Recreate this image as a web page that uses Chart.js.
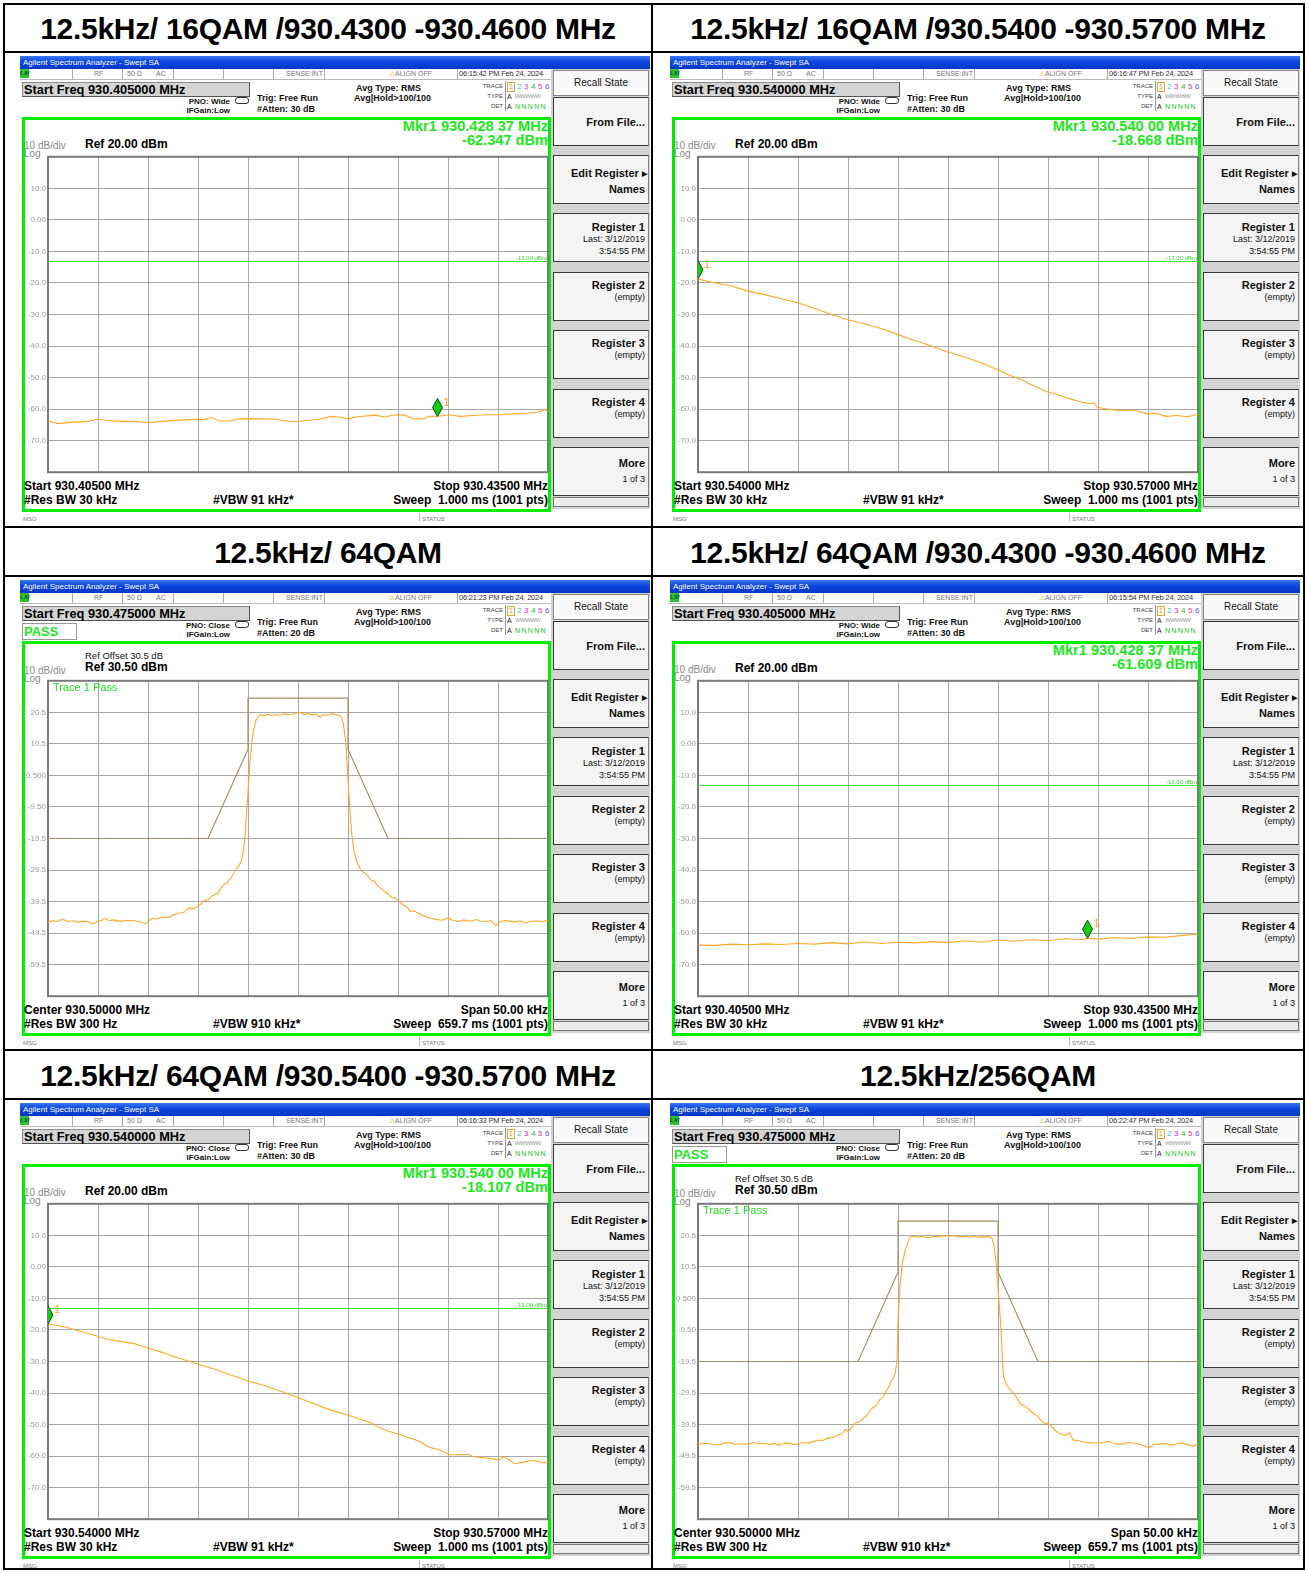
<!DOCTYPE html>
<html>
<head>
<meta charset="utf-8">
<script src="https://cdn.jsdelivr.net/npm/chart.js@4.4.0/dist/chart.umd.min.js"></script>
<style>
  body { margin: 0; background: #fff; font-family: "Liberation Sans", Arial, sans-serif; }
  #page { position: relative; width: 1309px; height: 1573px; overflow: hidden; }
  .ln { position: absolute; background: #000; z-index: 5; }
  .ttl { position: absolute; display: flex; align-items: center; justify-content: center; padding-top: 2px;
         box-sizing: border-box; font-weight: bold; font-size: 30px; letter-spacing: -0.3px; color: #000; white-space: nowrap; }
  .shot { position: absolute; width: 630px; height: 466px; background: #fff; overflow: hidden; }
  .shot div, .shot canvas { position: absolute; white-space: nowrap; }
  .bar { left: 0; top: 0; width: 630px; height: 13px; color: #fff; font-size: 8px; line-height: 13px;
         padding-left: 3px; box-sizing: border-box;
         background: linear-gradient(#3a76f2, #0a46de 45%, #0838c4); }
  .st { font-size: 7px; color: #777; line-height: 10px; top: 13px; }
  .sep { top: 13px; width: 1px; height: 10px; background: #aaa; }
  .sf { background: #d4d4d4; border: 1px solid #8a8a8a; border-right-color: #555; border-bottom-color: #555;
        font-size: 12.8px; font-weight: bold; line-height: 14px; padding-left: 1px; box-sizing: border-box; }
  .b8 { font-size: 8px; font-weight: bold; line-height: 9px; color: #111; }
  .b9 { font-size: 9px; font-weight: bold; line-height: 10px; color: #111; }
  .b11 { font-size: 12px; font-weight: bold; line-height: 13px; color: #000; }
  .b12 { font-size: 12px; font-weight: bold; line-height: 13px; color: #000; }
  .g9 { font-size: 10px; color: #8a8a8a; line-height: 9px; }
  .mk { font-size: 14.6px; font-weight: bold; color: #1ee61e; line-height: 14px; }
  .t6 { font-size: 6px; color: #444; line-height: 8px; }
  .gb { border: 3px solid #00ee00; box-sizing: border-box; }
  .sk { background: #f4f4f4; border: 1px solid #3a3a3a; border-right-color: #888; box-sizing: border-box;
        left: 533px; width: 96px; height: 49px; }
  .sk div { right: 3px; font-size: 11px; font-weight: bold; line-height: 12px; color: #111; }
  .sk div.sub { font-size: 9px; font-weight: normal; line-height: 12px; }
</style>
</head>
<body>
<div id="page"></div>
<script>
const FONT = '"Liberation Sans", Arial, sans-serif';

// ---------- data (x in kHz, y in dBm) ----------
// 16QAM 930.405-930.435 MHz (x = kHz from start)
const p1Freq = [0, 0.57, 1.38, 2.39, 2.98, 3.61, 4.42, 5.23, 5.98, 6.85, 7.86, 8.98, 9.39, 9.79, 10.3, 10.9, 11.5, 12.0, 12.9, 13.7, 14.1, 14.8, 15.4, 16.2, 17.0, 17.4, 18.0, 18.6, 19.6, 20.2, 20.8, 21.4, 21.9, 22.5, 22.9, 23.5, 24.1, 24.7, 25.5, 26.3, 27.1, 27.9, 28.7, 29.4, 29.8, 30];
const p1Level = [-63.75, -64.6, -64.2, -63.9, -63.2, -63.6, -63.9, -63.9, -64.3, -63.9, -63.5, -63.2, -63.3, -62.6, -63.75, -63.75, -63.1, -63.0, -63.1, -63.2, -63.6, -64.1, -63.6, -63.3, -62.3, -62.5, -63.0, -62.4, -61.9, -62.5, -61.8, -61.9, -63.0, -63.1, -62.3, -62.2, -61.8, -62.3, -62.0, -61.8, -61.8, -61.5, -61.3, -61.0, -60.1, -60.8];

// 16QAM 930.540-930.570 MHz
const p2Freq = [0, 0.73, 1.95, 2.94, 3.98, 4.99, 5.95, 7.02, 8.04, 8.95, 10.07, 11.08, 11.96, 12.91, 13.93, 14.96, 15.75, 16.56, 17.38, 17.95, 18.59, 19.41, 19.81, 20.42, 20.95, 21.64, 22.25, 22.86, 23.47, 23.77, 23.95, 24.68, 25.5, 26.1, 26.96, 27.5, 28.1, 28.7, 29.35, 30];
const p2Level = [-18.7, -19.7, -20.9, -22.5, -23.7, -25.0, -26.2, -28.1, -30.1, -31.6, -33.1, -34.6, -36.3, -38.1, -39.8, -41.9, -43.1, -44.5, -46.2, -47.4, -49.0, -50.7, -51.8, -53.2, -54.5, -55.5, -56.6, -57.6, -58.3, -58.0, -59.4, -60.1, -60.5, -60.3, -61.5, -61.4, -62.3, -62.0, -62.4, -61.7];

// 64QAM centre 930.500 MHz, span 50 kHz (x = kHz from centre)
const p3Freq = [-25, -24.7, -24.4, -24.0, -23.7, -23.4, -23.0, -22.5, -22.0, -21.5,
  -21.0, -20.5, -20.0, -19.6, -19.3, -18.9, -18.4, -18.0, -17.6, -17.1,
  -16.7, -16.3, -15.8, -15.3, -14.9, -14.6, -14.2, -13.8, -13.3, -12.9,
  -12.4, -11.9, -11.4, -10.9, -10.5, -10.05, -9.7, -9.4, -9.0, -8.5,
  -8.0, -7.5, -7.1, -6.7, -6.4, -6.2, -5.9, -5.6, -5.45, -5.3,
  -5.1, -4.8, -4.5, -4.2, -3.8, -3.4, -3.0, -2.6, -2.2, -1.8,
  -1.4, -1.0, -0.6, -0.2, 0.2, 0.6, 1.0, 1.4, 1.8, 2.2,
  2.6, 3.0, 3.4, 3.8, 4.1, 4.35, 4.56, 4.8, 5.0, 5.2,
  5.4, 5.6, 5.8, 6.0, 6.3, 6.7, 7.0, 7.3, 7.6, 8.0,
  8.3, 8.7, 9.0, 9.35, 9.7, 10.0, 10.5, 11.0, 11.2, 11.6,
  12.05, 12.5, 13.0, 13.4, 13.9, 14.4, 14.7, 15.0, 15.5, 16.1,
  16.6, 17.0, 17.4, 17.9, 18.3, 18.8, 19.3, 19.8, 20.2, 20.7,
  21.2, 21.7, 22.2, 22.8, 23.3, 23.85, 24.4, 25];
const p3Level = [-46.1, -45.7, -45.6, -45.9, -45.2, -45.3, -45.8, -45.6, -46.1, -45.7,
  -45.9, -46.6, -45.8, -45.4, -44.8, -45.5, -45.3, -45.7, -45.7, -45.4,
  -45.6, -45.6, -45.9, -46.6, -45.6, -44.8, -45.0, -44.6, -44.4, -44.5,
  -43.6, -43.3, -42.9, -41.5, -41.8, -41.1, -40.2, -39.2, -38.9, -37.6,
  -36.8, -34.3, -33.6, -32.0, -30.6, -29.1, -28.2, -26.0, -23.0, -18.8,
  -9.5, 5.0, 14.3, 18.0, 19.8, 19.4, 19.9, 19.5, 19.8, 19.6,
  20.1, 19.7, 19.8, 20.3, 20.5, 19.8, 20.1, 19.7, 19.9, 19.0,
  19.8, 19.6, 20.1, 19.7, 19.7, 19.1, 16.4, 10.2, -1.2, -10.5,
  -18.8, -23.5, -26.0, -27.8, -29.6, -30.5, -31.4, -32.7, -33.0, -34.6,
  -35.3, -36.4, -37.0, -38.2, -38.4, -39.2, -40.5, -41.5, -42.6, -42.4,
  -43.3, -43.9, -44.5, -44.8, -45.2, -45.4, -45.1, -44.6, -45.5, -45.8,
  -45.3, -45.7, -45.6, -45.2, -45.8, -45.9, -45.5, -47.1, -45.9, -45.5,
  -45.7, -46.0, -45.6, -46.3, -45.8, -45.6, -45.9, -45.4];

// 64QAM 930.405-930.435 MHz
const p4Freq = [0, 1.0, 2.0, 3.0, 4.0, 5.0, 6.0, 7.0, 8.0, 9.0, 10.0, 11.0, 12.0, 13.0, 14.0, 15.0, 16.0, 17.0, 18.0, 19.0, 20.0, 21.0, 22.0, 23.0, 23.4, 24.0, 25.0, 26.0, 27.0, 28.0, 29.0, 30.0];
const p4Level = [-63.8, -63.9, -63.5, -63.7, -63.4, -63.6, -63.3, -63.5, -63.0, -63.4, -62.8, -63.3, -62.9, -63.1, -62.7, -63.0, -62.4, -62.9, -62.2, -62.6, -62.0, -62.4, -61.8, -62.1, -61.6, -61.9, -61.4, -61.7, -61.2, -61.3, -60.8, -60.3];

// 64QAM 930.540-930.570 MHz
const p5Freq = [0, 0.97, 1.99, 2.98, 3.61, 4.42, 5.23, 5.98, 6.85, 7.86, 8.98, 10.09, 11.1, 11.99, 12.93, 14.15, 15.0, 15.97, 16.78, 17.99, 18.81, 19.42, 19.82, 20.43, 21.02, 21.65, 22.26, 22.86, 23.47, 24.04, 24.69, 25.2, 25.5, 26.31, 27.08, 27.36, 28.03, 28.54, 29.15, 29.66, 30];
const p5Level = [-18.1, -19.0, -20.5, -22.0, -23.0, -23.7, -24.4, -25.7, -27.1, -28.95, -30.8, -32.6, -34.5, -36.2, -37.5, -39.75, -41.5, -43.4, -45.1, -46.95, -48.5, -49.5, -50.8, -52.1, -53.0, -54.2, -55.2, -57.2, -57.95, -59.5, -59.6, -59.4, -60.2, -60.6, -61.2, -60.2, -62.4, -61.9, -61.3, -62.2, -61.9];

// 256QAM centre 930.500 MHz, span 50 kHz
const p6Freq = [-25, -24.6, -24.1, -23.5, -22.8, -22.3, -21.8, -21.3, -20.7, -20.0,
  -19.5, -18.9, -18.4, -17.8, -17.4, -17.0, -16.5, -16.0, -15.5, -15.0,
  -14.5, -14.0, -13.5, -13.0, -12.5, -12.0, -11.5, -11.0, -10.6, -10.3,
  -10.0, -9.6, -9.3, -8.9, -8.6, -8.1, -7.6, -7.2, -6.9, -6.5,
  -6.2, -5.9, -5.7, -5.5, -5.3, -5.1, -5.0, -4.8, -4.55, -4.2,
  -3.8, -3.4, -3.0, -2.6, -2.2, -1.8, -1.4, -1.0, -0.6, -0.2,
  0.2, 0.6, 1.0, 1.4, 1.8, 2.2, 2.6, 3.0, 3.4, 3.8,
  4.15, 4.4, 4.56, 4.83, 5.06, 5.3, 5.45, 5.57, 5.9, 6.4,
  6.8, 7.25, 7.6, 7.93, 8.4, 8.94, 9.3, 9.6, 10.0, 10.3,
  10.8, 11.3, 11.7, 12.15, 12.5, 13.0, 13.7, 14.3, 15.1, 15.6,
  16.0, 16.6, 17.0, 17.4, 18.0, 18.7, 19.3, 20.1, 20.6, 21.1,
  21.7, 22.4, 22.9, 23.45, 24.0, 24.5, 25];
const p6Level = [-46.0, -45.4, -45.5, -45.8, -45.9, -45.3, -45.3, -45.8, -45.6, -45.7,
  -45.2, -45.6, -45.5, -45.9, -45.4, -46.0, -45.6, -45.3, -45.8, -45.7,
  -45.2, -45.4, -44.9, -44.4, -44.5, -43.8, -43.5, -42.7, -42.5, -41.0,
  -41.6, -40.3, -39.0, -38.7, -37.95, -36.5, -34.3, -33.5, -31.8, -30.8,
  -28.9, -27.5, -25.8, -24.8, -23.5, -19.4, -7.0, 4.3, 12.0, 16.7,
  20.0, 20.2, 19.9, 20.2, 19.8, 19.9, 20.1, 20.1, 20.3, 20.4,
  20.2, 20.5, 20.0, 20.1, 20.2, 19.9, 20.2, 19.8, 20.1, 20.0,
  20.0, 19.6, 17.7, 11.5, 1.2, -9.1, -19.5, -24.6, -27.1, -29.2,
  -30.6, -33.0, -33.5, -34.3, -35.6, -36.9, -38.2, -39.0, -39.2, -39.8,
  -41.6, -42.6, -42.9, -42.1, -44.3, -44.6, -45.0, -45.3, -45.4, -45.1,
  -44.8, -45.4, -45.7, -45.7, -45.2, -45.4, -45.9, -46.8, -45.8, -45.7,
  -45.5, -46.0, -45.6, -45.3, -45.9, -46.4, -45.7];

// emission mask used on the 64QAM / 256QAM plots
const maskFreq = [-25, -9, -5, -5, 5, 5, 9, 25];
const maskLevel = [-19.5, -19.5, 8.8, 25, 25, 8.8, -19.5, -19.5];

// marker 1 (null = no marker) and -13 dBm limit line
const markerFreqs = [23.37, 0, null, 23.37, 0, null];
const markerLevels = [-62.347, -18.668, null, -61.609, -18.107, null];
const limitLevel = -13;

// y tick labels, top to bottom
const yLabels16 = ['', '10.0', '0.00', '-10.0', '-20.0', '-30.0', '-40.0', '-50.0', '-60.0', '-70.0', ''];
const yLabels64 = ['', '20.5', '10.5', '0.500', '-9.50', '-19.5', '-29.5', '-39.5', '-49.5', '-59.5', ''];

const titles = [
  '12.5kHz/ 16QAM /930.4300 -930.4600 MHz', '12.5kHz/ 16QAM /930.5400 -930.5700 MHz',
  '12.5kHz/ 64QAM', '12.5kHz/ 64QAM /930.4300 -930.4600 MHz',
  '12.5kHz/ 64QAM /930.5400 -930.5700 MHz', '12.5kHz/256QAM'
];

const swept = { b1: 'Start 930.40500 MHz', b2: 'Stop 930.43500 MHz', rbw: '#Res BW 30 kHz', vbw: '#VBW 91 kHz*', sweep: 'Sweep&nbsp; 1.000 ms (1001 pts)' };
const swept2 = { b1: 'Start 930.54000 MHz', b2: 'Stop 930.57000 MHz', rbw: '#Res BW 30 kHz', vbw: '#VBW 91 kHz*', sweep: 'Sweep&nbsp; 1.000 ms (1001 pts)' };
const centred = { b1: 'Center 930.50000 MHz', b2: 'Span 50.00 kHz', rbw: '#Res BW 300 Hz', vbw: '#VBW 910 kHz*', sweep: 'Sweep&nbsp; 659.7 ms (1001 pts)' };

const panels = [
  { freq: p1Freq, level: p1Level, mode: '16', start: '930.405000', time: '06:15:42 PM Feb 24, 2024', pno: 'Wide', atten: '30', mkrF: '930.428 37', mkrL: '-62.347', txt: swept },
  { freq: p2Freq, level: p2Level, mode: '16', start: '930.540000', time: '06:16:47 PM Feb 24, 2024', pno: 'Wide', atten: '30', mkrF: '930.540 00', mkrL: '-18.668', txt: swept2 },
  { freq: p3Freq, level: p3Level, mode: '64', start: '930.475000', time: '06:21:23 PM Feb 24, 2024', pno: 'Close', atten: '20', txt: centred },
  { freq: p4Freq, level: p4Level, mode: '16', start: '930.405000', time: '06:15:54 PM Feb 24, 2024', pno: 'Wide', atten: '30', mkrF: '930.428 37', mkrL: '-61.609', txt: swept },
  { freq: p5Freq, level: p5Level, mode: '16', start: '930.540000', time: '06:16:33 PM Feb 24, 2024', pno: 'Close', atten: '30', mkrF: '930.540 00', mkrL: '-18.107', txt: swept2 },
  { freq: p6Freq, level: p6Level, mode: '64', start: '930.475000', time: '06:22:47 PM Feb 24, 2024', pno: 'Close', atten: '20', txt: centred }
];

// ---------- page frame ----------
const page = document.getElementById('page');
const shotX = [20, 670];
const shotY = [56, 580, 1103];
const bandTop = [5, 528, 1051];
const bandBottom = [51, 575, 1098];

function add(html) { page.insertAdjacentHTML('beforeend', html); }

function div(cls, x, y, content, extra) {
  return `<div class="${cls}" style="left:${x}px;top:${y}px;${extra || ''}">${content || ''}</div>`;
}
function rdiv(cls, right, y, content, extra) {
  return `<div class="${cls}" style="right:${630 - right}px;top:${y}px;${extra || ''}">${content || ''}</div>`;
}

function shotHTML(p, i) {
  const is64 = p.mode === '64';
  let h = '<div class="bar">Agilent Spectrum Analyzer - Swept SA</div>';
  // status row
  h += `<div style="left:0;top:13px;width:531px;height:10px;border-bottom:1px solid #bbb"></div>`;
  h += `<div style="left:0;top:13px;width:9px;height:9px;background:#2ec02e;font-size:6px;font-weight:bold;font-style:italic;color:#053;line-height:9px">LXI</div>`;
  [52, 102, 153, 203, 253, 304, 437].forEach(x => { h += div('sep', x, 13, ''); });
  h += div('st', 74, 13, 'RF') + div('st', 107, 13, '50 &Omega;') + div('st', 136, 13, 'AC');
  h += div('st', 266, 13, 'SENSE:INT');
  h += div('st', 369, 13, '<span style="color:#c9a000">&#9888;</span>ALIGN OFF');
  h += div('st', 439, 13, p.time, 'color:#333;font-size:7.5px;letter-spacing:-0.2px');
  // settings
  h += div('sf', 2, 26, `Start Freq ${p.start} MHz`, 'width:228px;height:15px');
  if (is64) {
    h += div('', 2, 43, 'PASS', 'width:55px;height:17px;border:1px solid #999;box-sizing:border-box;color:#1ee61e;font-size:13px;font-weight:bold;line-height:15px;padding-left:1px');
  }
  h += rdiv('b8', 210, 41, `PNO: ${p.pno}`) + rdiv('b8', 210, 50, 'IFGain:Low');
  h += div('', 215, 41, '', 'width:12px;height:5px;border:1px solid #333;border-radius:3px');
  h += div('b9', 237, 37, 'Trig: Free Run') + div('b9', 237, 48, `#Atten: ${p.atten} dB`);
  h += div('b9', 336, 27, 'Avg Type: RMS') + div('b9', 334, 37, 'Avg|Hold&gt;100/100');
  h += rdiv('t6', 483, 26, 'TRACE') + rdiv('t6', 483, 36, 'TYPE') + rdiv('t6', 483, 46, 'DET');
  h += div('', 485, 25, '', 'width:1px;height:30px;background:#999');
  h += div('', 487, 26, '1', 'width:6px;height:8px;border:1px solid #f0a030;color:#f09000;font-size:7px;line-height:8px;text-align:center');
  ['#18c8e8', '#e020e0', '#20c020', '#ff3080', '#6050ff'].forEach((c, k) => {
    h += div('', 497 + k * 7, 26, String(k + 2), `color:${c};font-size:8px;line-height:9px`);
  });
  h += div('', 487, 36, 'A', 'font-size:7px;line-height:9px;color:#222');
  h += div('', 495, 36, 'WWWWW', 'font-size:6px;line-height:9px;color:#999;letter-spacing:-0.6px');
  h += div('', 487, 46, 'A', 'font-size:7px;line-height:9px;color:#222');
  h += div('', 495, 46, 'N N N N N', 'font-size:7px;line-height:9px;color:#20c020;letter-spacing:-0.3px');
  // measurement window
  h += div('gb', 2, 61, '', 'width:529px;height:395px');
  if (!is64) {
    h += rdiv('mk', 528, 63, `Mkr1 ${p.mkrF} MHz`) + rdiv('mk', 528, 77, `${p.mkrL} dBm`);
    h += div('b12', 65, 82, 'Ref 20.00 dBm');
    h += div('g9', 4, 85, '10 dB/div') + div('g9', 4, 93, 'Log');
  } else {
    h += div('', 65, 71, 'Ref Offset 30.5 dB', 'font-size:9.5px;line-height:10px;color:#111');
    h += div('b12', 65, 81, 'Ref 30.50 dBm');
    h += div('g9', 4, 86, '10 dB/div') + div('g9', 4, 94, 'Log');
  }
  h += `<canvas id="c${i}" width="525" height="329" style="left:5px;top:94px;width:525px;height:329px"></canvas>`;
  if (is64) h += div('', 33, 101, 'Trace 1 Pass', 'font-size:11px;line-height:12px;color:#22dd22');
  h += div('b11', 4, 424, p.txt.b1) + rdiv('b11', 528, 424, p.txt.b2);
  h += div('b11', 4, 438, p.txt.rbw) + div('b11', 193, 438, p.txt.vbw) + rdiv('b11', 528, 438, p.txt.sweep);
  h += div('', 3, 459, 'MSG', 'font-size:6px;color:#777;line-height:8px');
  h += div('', 399, 457, '', 'width:1px;height:11px;background:#bbb');
  h += div('', 402, 459, 'STATUS', 'font-size:6px;color:#777;line-height:8px');
  // softkeys
  h += div('', 531, 13, '', 'width:99px;height:440px;background:#d2d2d2');
  h += div('', 533, 14, 'Recall State', 'width:96px;height:26px;background:#fafafa;border:1px solid #888;box-sizing:border-box;font-size:10px;line-height:24px;text-align:center;color:#111');
  const keys = [
    [41, [['From File...', 18, '']]],
    [99, [['Edit Register&nbsp;&nbsp;', 11, ''], ['Names', 27, '']]],
    [157, [['Register 1', 7, ''], ['Last: 3/12/2019', 19, 'sub'], ['3:54:55 PM', 31, 'sub']]],
    [216, [['Register 2', 6, ''], ['(empty)', 18, 'sub']]],
    [274, [['Register 3', 6, ''], ['(empty)', 18, 'sub']]],
    [333, [['Register 4', 6, ''], ['(empty)', 18, 'sub']]],
    [391, [['More', 9, ''], ['1 of 3', 25, 'sub']]]
  ];
  keys.forEach(([top, lines]) => {
    let inner = lines.map(([t, y, c]) => `<div class="${c}" style="top:${y}px">${t}</div>`).join('');
    if (top === 99) inner += `<div style="top:14px;right:1px;font-size:7px;line-height:8px">&#9654;</div>`;
    h += `<div class="sk" style="top:${top}px">${inner}</div>`;
  });
  h += div('', 533, 441, '', 'width:96px;height:10px;background:#ececec;border:1px solid #777;box-sizing:border-box');
  return h;
}

panels.forEach((p, i) => {
  const col = i % 2, row = Math.floor(i / 2);
  add(`<div class="shot" style="left:${shotX[col]}px;top:${shotY[row]}px">${shotHTML(p, i)}</div>`);
  const left = col === 0 ? 5 : 653, right = col === 0 ? 651 : 1303;
  add(`<div class="ttl" style="left:${left}px;top:${bandTop[row]}px;width:${right - left}px;height:${bandBottom[row] - bandTop[row]}px">${titles[i]}</div>`);
});

// table lines
add('<div class="ln" style="left:3px;top:3px;width:1302px;height:2px"></div>');
add('<div class="ln" style="left:3px;top:1568px;width:1302px;height:2px"></div>');
add('<div class="ln" style="left:3px;top:3px;width:2px;height:1567px"></div>');
add('<div class="ln" style="left:1303px;top:3px;width:2px;height:1567px"></div>');
add('<div class="ln" style="left:651px;top:3px;width:2px;height:1567px"></div>');
[51, 526, 575, 1049, 1098].forEach(y => add(`<div class="ln" style="left:3px;top:${y}px;width:1302px;height:2px"></div>`));

// ---------- charts ----------
function toXY(xs, ys) { return xs.map((x, k) => ({ x, y: ys[k] })); }
function tenDivisions(scale) {
  const out = [];
  for (let k = 0; k <= 10; k++) out.push({ value: scale.min + (scale.max - scale.min) * k / 10 });
  scale.ticks = out;
}

const specPlugin = {
  id: 'spec',
  beforeDatasetsDraw(chart, args, o) {
    const { ctx, chartArea: a, scales: { y } } = chart;
    ctx.save();
    ctx.strokeStyle = '#7a7a7a';
    ctx.lineWidth = 2;
    ctx.strokeRect(a.left, a.top, a.right - a.left, a.bottom - a.top);
    if (o.limit != null) {
      const py = Math.round(y.getPixelForValue(o.limit)) + 0.5;
      ctx.strokeStyle = '#3fe03f';
      ctx.lineWidth = 1;
      ctx.beginPath(); ctx.moveTo(a.left, py); ctx.lineTo(a.right, py); ctx.stroke();
      ctx.fillStyle = '#3fd03f';
      ctx.font = `6px ${FONT}`;
      ctx.textAlign = 'right';
      ctx.fillText('-13.00 dBm', a.right - 1, py - 2);
    }
    ctx.restore();
  },
  afterDatasetsDraw(chart, args, o) {
    if (o.mf == null) return;
    const { ctx, chartArea: a, scales: { x, y } } = chart;
    const px = x.getPixelForValue(o.mf), py = y.getPixelForValue(o.ml);
    ctx.save();
    ctx.beginPath(); ctx.rect(a.left, a.top, a.right - a.left, a.bottom - a.top); ctx.clip();
    ctx.beginPath();
    ctx.moveTo(px, py); ctx.lineTo(px + 5, py - 9); ctx.lineTo(px, py - 18); ctx.lineTo(px - 5, py - 9); ctx.closePath();
    ctx.fillStyle = '#14cc14'; ctx.fill();
    ctx.strokeStyle = '#0a4a0a'; ctx.lineWidth = 1; ctx.stroke();
    ctx.restore();
    ctx.save();
    ctx.fillStyle = '#ffa010';
    ctx.font = `11px ${FONT}`;
    ctx.fillText('1', px + 6, py - 11);
    ctx.restore();
  }
};

panels.forEach((p, i) => {
  const is64 = p.mode === '64';
  const labels = is64 ? yLabels64 : yLabels16;
  const datasets = [{
    data: toXY(p.freq, p.level), borderColor: '#ffa726', borderWidth: 1.1, pointRadius: 0, tension: 0
  }];
  if (is64) {
    datasets.push({ data: toXY(maskFreq, maskLevel), borderColor: '#a88f6a', borderWidth: 1.2, pointRadius: 0, tension: 0 });
  }
  const gridOpts = { color: '#a8a8a8', lineWidth: 1, drawTicks: false };
  new Chart(document.getElementById('c' + i), {
    type: 'line',
    data: { datasets },
    options: {
      responsive: false,
      animation: false,
      layout: { padding: { top: 4, right: 2, bottom: 2, left: 0 } },
      plugins: {
        legend: { display: false },
        tooltip: { enabled: false },
        spec: { limit: is64 ? null : limitLevel, mf: markerFreqs[i], ml: markerLevels[i] }
      },
      scales: {
        x: {
          type: 'linear', min: is64 ? -25 : 0, max: is64 ? 25 : 30,
          ticks: { display: false }, grid: gridOpts, border: { display: false },
          afterBuildTicks: tenDivisions,
          afterFit: (s) => { s.height = 0; }
        },
        y: {
          type: 'linear', min: is64 ? -69.5 : -80, max: is64 ? 30.5 : 20,
          ticks: {
            color: '#9a9a9a', font: { size: 8, family: FONT }, padding: 2, autoSkip: false,
            callback: (v, k, arr) => labels[arr.length - 1 - k]
          },
          grid: gridOpts, border: { display: false },
          afterBuildTicks: tenDivisions,
          afterFit: (s) => { s.width = 23; }
        }
      }
    },
    plugins: [specPlugin]
  });
});
</script>
</body>
</html>
